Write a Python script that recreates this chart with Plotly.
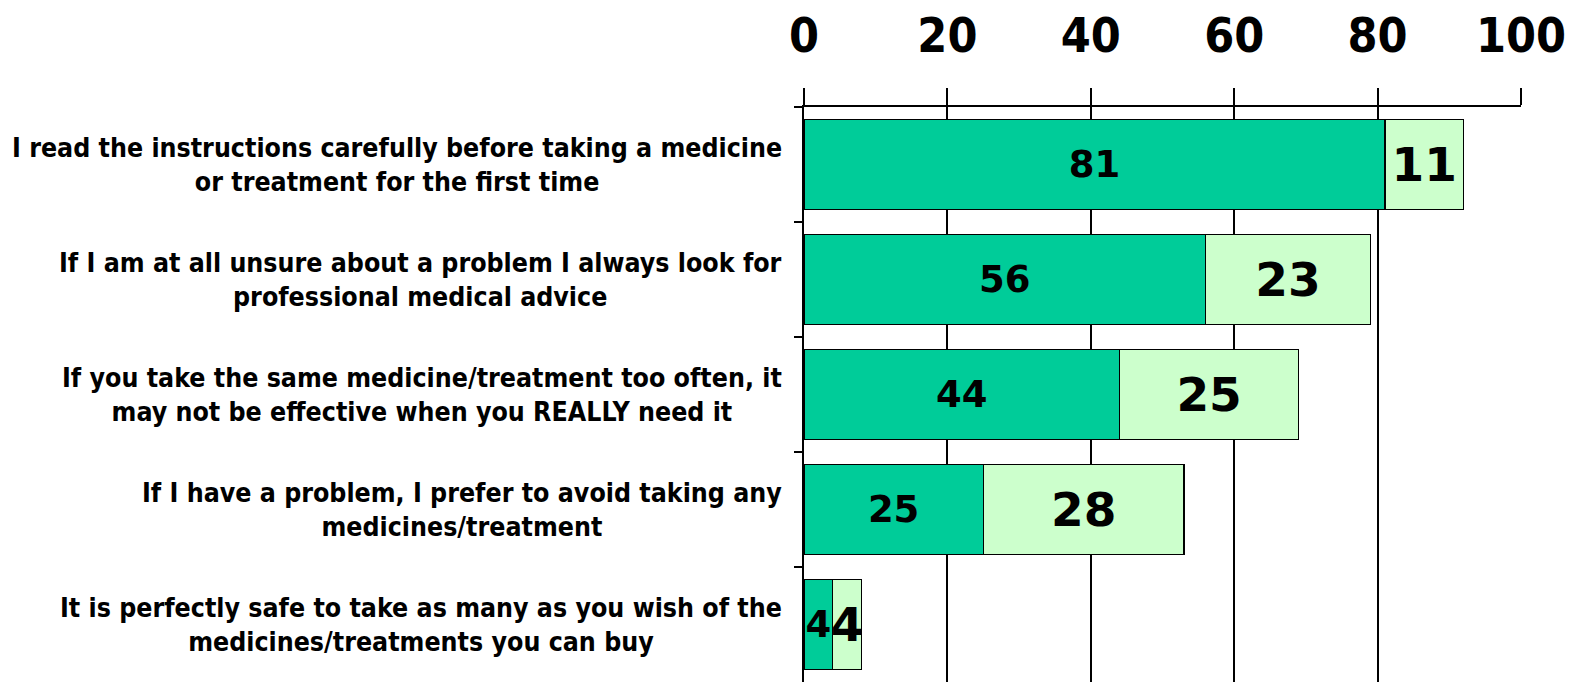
import plotly.graph_objects as go

categories = [
    "I read the instructions carefully before taking a medicine<br>or treatment for the first time",
    "If I am at all unsure about a problem I always look for<br>professional medical advice",
    "If you take the same medicine/treatment too often, it<br>may not be effective when you REALLY need it",
    "If I have a problem, I prefer to avoid taking any<br>medicines/treatment",
    "It is perfectly safe to take as many as you wish of the<br>medicines/treatments you can buy",
]
cat_ids = ["c1", "c2", "c3", "c4", "c5"]
dark_values = [81, 56, 44, 25, 4]
light_values = [11, 23, 25, 28, 4]
x_ticks = [0, 20, 40, 60, 80, 100]

fig = go.Figure()
fig.add_trace(go.Bar(
    y=cat_ids, x=dark_values, orientation="h",
    marker=dict(color="#00CC99", line=dict(color="black", width=1.5)),
    text=[str(v) for v in dark_values], textposition="inside",
    insidetextanchor="middle", textangle=0, constraintext="none",
    textfont=dict(family="DejaVu Sans", size=37, color="black", weight="bold"),
    showlegend=False, cliponaxis=False,
))
fig.add_trace(go.Bar(
    y=cat_ids, x=light_values, orientation="h",
    marker=dict(color="#CCFFCC", line=dict(color="black", width=1.5)),
    text=[str(v) for v in light_values], textposition="inside",
    insidetextanchor="middle", textangle=0, constraintext="none",
    textfont=dict(family="DejaVu Sans", size=47, color="black", weight="bold"),
    showlegend=False, cliponaxis=False,
))

for cid, label in zip(cat_ids, categories):
    fig.add_annotation(
        x=0, xref="paper", y=cid, yref="y", xanchor="right", yanchor="middle",
        xshift=-20, text=label, showarrow=False, align="center",
        font=dict(family="DejaVu Sans Condensed", size=26.5, color="black", weight="bold"),
    )

fig.update_layout(
    barmode="stack", bargap=0.22,
    width=1585, height=682,
    margin=dict(l=804, r=64, t=107, b=0, autoexpand=False),
    plot_bgcolor="white", paper_bgcolor="white",
    xaxis=dict(
        side="top", range=[0, 100], tickvals=x_ticks, ticktext=[str(t) for t in x_ticks],
        showgrid=True, gridcolor="black", gridwidth=1.5,
        ticks="outside", ticklen=17, tickwidth=1.5, tickcolor="black",
        showline=True, linecolor="black", linewidth=1.5,
        tickfont=dict(family="DejaVu Sans Condensed", size=48, color="black", weight="bold"),
        ticklabelstandoff=17, zeroline=False, fixedrange=True, automargin=False,
    ),
    yaxis=dict(
        autorange="reversed", showticklabels=False,
        ticks="outside", tickson="boundaries", ticklen=8, tickwidth=1.5, tickcolor="black",
        showline=True, linecolor="black", linewidth=1.5, showgrid=False, fixedrange=True,
        automargin=False,
    ),
)

fig.write_html(
    "out.html",
    config={"displayModeBar": False},
    post_script="document.body.style.margin='0px';document.body.style.overflow='hidden';",
)
